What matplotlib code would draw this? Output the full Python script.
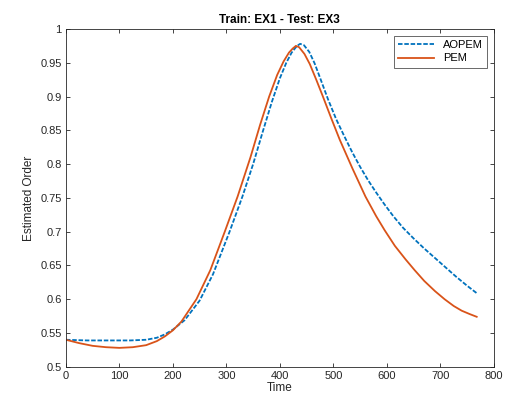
import matplotlib.pyplot as plt
from matplotlib.ticker import FixedLocator

plt.rcParams["font.family"] = ["Liberation Sans", "DejaVu Sans"]

# AOPEM estimate over time
t_aopem = [0, 40, 80, 120, 150, 170, 185, 200, 222, 250, 275, 306, 330,
           350, 368, 385, 400, 412, 422, 432, 438, 445, 455, 465, 475,
           490, 505, 520, 535, 550, 565, 580, 595, 612, 630, 650, 670,
           690, 710, 730, 750, 768]
v_aopem = [0.540, 0.539, 0.539, 0.539, 0.540, 0.543, 0.548, 0.555, 0.569,
           0.598, 0.637, 0.700, 0.752, 0.800, 0.848, 0.892, 0.927, 0.950,
           0.965, 0.975, 0.978, 0.976, 0.966, 0.949, 0.928, 0.896, 0.867,
           0.842, 0.818, 0.796, 0.776, 0.758, 0.741, 0.723, 0.706, 0.690,
           0.675, 0.661, 0.647, 0.633, 0.620, 0.609]

# PEM estimate over time
t_pem = [0, 25, 50, 75, 100, 125, 150, 170, 185, 200, 216, 244, 270, 297,
         321, 345, 363, 380, 395, 407, 417, 424, 430, 436, 446, 456, 468,
         480, 496, 512, 536, 560, 580, 596, 615, 635, 652, 670, 690, 708,
         725, 740, 755, 768]
v_pem = [0.540, 0.535, 0.531, 0.529, 0.528, 0.529, 0.532, 0.538, 0.545,
         0.554, 0.567, 0.600, 0.643, 0.700, 0.752, 0.810, 0.858, 0.900,
         0.932, 0.952, 0.965, 0.971, 0.975, 0.973, 0.963, 0.948, 0.925,
         0.901, 0.868, 0.836, 0.793, 0.752, 0.723, 0.702, 0.679, 0.659,
         0.643, 0.627, 0.612, 0.600, 0.590, 0.583, 0.578, 0.574]

x_ticks = list(range(0, 801, 100))
y_ticks = [0.5, 0.55, 0.6, 0.65, 0.7, 0.75, 0.8, 0.85, 0.9, 0.95, 1.0]
y_labels = ["0.5", "0.55", "0.6", "0.65", "0.7", "0.75", "0.8", "0.85",
            "0.9", "0.95", "1"]

fig = plt.figure(figsize=(5.07, 4.08), dpi=100)
ax = fig.add_axes([0.130, 0.101, 0.844, 0.828])

ax.plot(t_aopem, v_aopem, color="#0072BD", lw=1.3, ls=(0, (2.5, 1)),
        label="AOPEM")
ax.plot(t_pem, v_pem, color="#D95319", lw=1.3, label="PEM")

ax.set_xlim(0, 800)
ax.set_ylim(0.5, 1.0)
ax.xaxis.set_major_locator(FixedLocator(x_ticks))
ax.set_yticks(y_ticks)
ax.set_yticklabels(y_labels)

grey = "#262626"
for s in ax.spines.values():
    s.set_color(grey)
    s.set_linewidth(0.6)
ax.tick_params(direction="in", length=3, width=0.6, colors=grey,
               labelsize=8, top=True, right=True, pad=3)

ax.set_title("Train: EX1 - Test: EX3", fontsize=8.5, fontweight="bold",
             color="black", pad=4)
ax.set_xlabel("Time", fontsize=8.5, color=grey, labelpad=1)
ax.set_ylabel("Estimated Order", fontsize=8.5, color=grey, labelpad=4)

leg = ax.legend(loc="upper right", fontsize=8, frameon=True, fancybox=False,
                edgecolor=grey, handlelength=3.2, borderpad=0.4,
                labelspacing=0.3, borderaxespad=0.6)
leg.get_frame().set_linewidth(0.6)

fig.savefig("out.png", dpi=100)
